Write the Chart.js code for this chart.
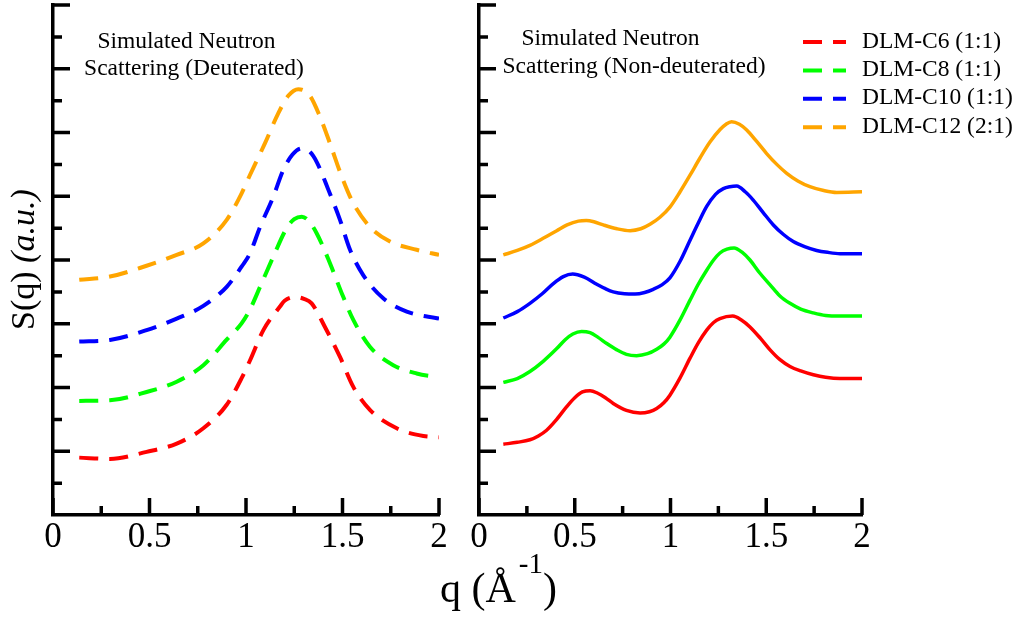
<!DOCTYPE html>
<html>
<head>
<meta charset="utf-8">
<script src="https://cdn.jsdelivr.net/npm/chart.js@4.4.1/dist/chart.umd.min.js"></script>
<style>
  html, body { margin: 0; padding: 0; background: #fff; }
  #wrap { position: relative; width: 1021px; height: 617px; }
  #wrap canvas { position: absolute; left: 0; top: 0; }
</style>
</head>
<body>
<div id="wrap">
  <canvas id="deut" width="1021" height="617"></canvas>
  <canvas id="nondeut" width="1021" height="617"></canvas>
</div>
<script>
const serif = "'Liberation Serif', 'Times New Roman', serif";

const labels = ['DLM-C6 (1:1)', 'DLM-C8 (1:1)', 'DLM-C10 (1:1)', 'DLM-C12 (2:1)'];
const colors = ['#ff0000', '#00ff00', '#0000ff', '#ffa500'];

// axis ticks
const qMajor = [0, 0.5, 1, 1.5, 2];
const qMinor = [0.25, 0.75, 1.25, 1.75];
const sMajor = [1, 2, 3, 4, 5, 6, 7, 8];
const sMinor = [0.5, 1.5, 2.5, 3.5, 4.5, 5.5, 6.5, 7.5];

// deuterated (dashed)
const qD6 = [0.136, 0.295, 0.485, 0.641, 0.779, 0.9, 0.978, 1.02, 1.09, 1.176, 1.20, 1.254, 1.30, 1.34, 1.409, 1.487, 1.556, 1.642, 1.781, 1.919, 2.0];
const sD6 = [0.90, 0.88, 0.99, 1.12, 1.36, 1.73, 2.15, 2.42, 2.90, 3.27, 3.36, 3.42, 3.39, 3.32, 2.95, 2.48, 2.01, 1.65, 1.36, 1.24, 1.22];
const qD8 = [0.136, 0.295, 0.485, 0.641, 0.779, 0.9, 0.978, 1.02, 1.073, 1.141, 1.211, 1.25, 1.289, 1.32, 1.366, 1.435, 1.496, 1.556, 1.642, 1.763, 1.884, 2.0];
const sD8 = [1.79, 1.80, 1.93, 2.09, 2.35, 2.75, 3.01, 3.22, 3.58, 4.05, 4.50, 4.64, 4.68, 4.63, 4.42, 3.95, 3.48, 3.06, 2.64, 2.35, 2.22, 2.16];
const qD10 = [0.136, 0.295, 0.485, 0.641, 0.779, 0.9, 0.978, 1.02, 1.073, 1.141, 1.193, 1.24, 1.289, 1.33, 1.366, 1.427, 1.487, 1.539, 1.608, 1.711, 1.833, 2.0];
const sD10 = [2.72, 2.745, 2.90, 3.08, 3.28, 3.58, 3.90, 4.10, 4.52, 4.99, 5.41, 5.65, 5.75, 5.70, 5.54, 5.10, 4.63, 4.16, 3.76, 3.40, 3.19, 3.08];
const qD12 = [0.136, 0.295, 0.485, 0.641, 0.779, 0.9, 0.978, 1.02, 1.098, 1.167, 1.22, 1.271, 1.33, 1.383, 1.435, 1.496, 1.556, 1.642, 1.746, 1.884, 2.0];
const sD12 = [3.69, 3.74, 3.91, 4.08, 4.26, 4.63, 5.05, 5.33, 5.83, 6.30, 6.58, 6.68, 6.58, 6.25, 5.83, 5.31, 4.89, 4.52, 4.29, 4.16, 4.08];

// non-deuterated (solid)
const qN6 = [0.127, 0.20, 0.266, 0.31, 0.353, 0.40, 0.458, 0.50, 0.54, 0.58, 0.62, 0.66, 0.701, 0.77, 0.841, 0.89, 0.928, 0.965, 0.997, 1.05, 1.102, 1.145, 1.189, 1.225, 1.258, 1.325, 1.37, 1.415, 1.47, 1.52, 1.57, 1.624, 1.68, 1.746, 1.81, 1.885, 2.0];
const sN6 = [1.11, 1.14, 1.18, 1.24, 1.33, 1.48, 1.70, 1.84, 1.93, 1.95, 1.91, 1.84, 1.75, 1.64, 1.60, 1.62, 1.67, 1.76, 1.88, 2.15, 2.46, 2.70, 2.90, 3.02, 3.08, 3.12, 3.06, 2.95, 2.77, 2.59, 2.44, 2.33, 2.26, 2.20, 2.16, 2.14, 2.14];
const qN8 = [0.127, 0.20, 0.266, 0.335, 0.406, 0.45, 0.49, 0.536, 0.58, 0.62, 0.667, 0.72, 0.77, 0.823, 0.88, 0.928, 0.965, 0.997, 1.05, 1.102, 1.145, 1.189, 1.225, 1.258, 1.295, 1.332, 1.375, 1.415, 1.465, 1.52, 1.57, 1.624, 1.68, 1.746, 1.81, 1.885, 2.0];
const sN8 = [2.08, 2.14, 2.25, 2.41, 2.61, 2.75, 2.84, 2.88, 2.86, 2.79, 2.69, 2.59, 2.52, 2.50, 2.53, 2.60, 2.68, 2.79, 3.06, 3.37, 3.62, 3.84, 4.00, 4.11, 4.17, 4.19, 4.12, 4.00, 3.80, 3.61, 3.44, 3.32, 3.23, 3.17, 3.13, 3.12, 3.12];
const qN10 = [0.127, 0.20, 0.266, 0.33, 0.388, 0.44, 0.489, 0.55, 0.615, 0.66, 0.701, 0.76, 0.815, 0.865, 0.910, 0.955, 0.997, 1.05, 1.102, 1.145, 1.189, 1.235, 1.276, 1.31, 1.346, 1.39, 1.432, 1.485, 1.537, 1.59, 1.641, 1.70, 1.763, 1.82, 1.885, 2.0];
const sN10 = [3.09, 3.19, 3.32, 3.47, 3.63, 3.74, 3.78, 3.73, 3.62, 3.55, 3.50, 3.47, 3.465, 3.49, 3.54, 3.61, 3.72, 3.98, 4.31, 4.58, 4.84, 5.03, 5.12, 5.15, 5.16, 5.07, 4.94, 4.74, 4.55, 4.40, 4.29, 4.21, 4.15, 4.12, 4.10, 4.10];
const qN12 = [0.127, 0.20, 0.266, 0.335, 0.406, 0.46, 0.519, 0.56, 0.60, 0.649, 0.72, 0.789, 0.845, 0.893, 0.945, 0.997, 1.05, 1.102, 1.154, 1.206, 1.26, 1.29, 1.319, 1.36, 1.398, 1.45, 1.502, 1.555, 1.607, 1.665, 1.728, 1.80, 1.868, 2.0];
const sN12 = [4.08, 4.15, 4.23, 4.34, 4.46, 4.55, 4.61, 4.62, 4.60, 4.55, 4.49, 4.46, 4.49, 4.56, 4.67, 4.83, 5.07, 5.33, 5.60, 5.85, 6.05, 6.13, 6.17, 6.13, 6.04, 5.86, 5.67, 5.50, 5.36, 5.24, 5.15, 5.09, 5.06, 5.07];

function series(i, q, s, dashed) {
    return {
        label: labels[i],
        data: q.map((x, k) => ({ x: x, y: s[k] })),
        borderColor: colors[i],
        borderWidth: dashed ? 4 : 3.5,
        borderDash: dashed ? [19, 11] : [],
        borderCapStyle: 'butt',
        cubicInterpolationMode: 'monotone',
        fill: false
    };
}

// short ticks pointing into the plot, major and minor
const innerTicks = {
    id: 'innerTicks',
    afterDraw(chart) {
        const { ctx, chartArea: a, scales: { x, y } } = chart;
        ctx.save();
        ctx.strokeStyle = '#000';
        ctx.lineWidth = 3.5;
        ctx.beginPath();
        qMajor.concat(qMinor).forEach(v => {
            const px = x.getPixelForValue(v);
            const len = qMajor.includes(v) ? 17 : 9;
            ctx.moveTo(px, a.bottom);
            ctx.lineTo(px, a.bottom - len);
        });
        sMajor.concat(sMinor).forEach(v => {
            const py = y.getPixelForValue(v);
            const len = sMajor.includes(v) ? 17 : 9;
            ctx.moveTo(a.left, py);
            ctx.lineTo(a.left + len, py);
        });
        ctx.stroke();
        ctx.restore();
    }
};

// two-line caption inside each panel
const panelNote = {
    id: 'panelNote',
    afterDraw(chart, args, opts) {
        const { ctx, chartArea: a } = chart;
        ctx.save();
        ctx.font = '23.5px ' + serif;
        ctx.fillStyle = '#000';
        ctx.textAlign = 'center';
        ctx.textBaseline = 'alphabetic';
        opts.lines.forEach(l => ctx.fillText(l.text, a.left + l.dx, l.y));
        ctx.restore();
    }
};

// legend with dashed samples, top right
const sideLegend = {
    id: 'sideLegend',
    afterDraw(chart) {
        const { ctx } = chart;
        ctx.save();
        ctx.font = '23.5px ' + serif;
        ctx.textBaseline = 'alphabetic';
        chart.data.datasets.forEach((ds, i) => {
            const base = 47.5 + i * 28.4;
            ctx.strokeStyle = ds.borderColor;
            ctx.lineWidth = 4;
            ctx.setLineDash([19, 11]);
            ctx.beginPath();
            ctx.moveTo(803, base - 5.5);
            ctx.lineTo(846, base - 5.5);
            ctx.stroke();
            ctx.setLineDash([]);
            ctx.fillStyle = '#000';
            ctx.fillText(ds.label, 862, base);
        });
        ctx.restore();
    }
};

// shared axis titles
const axisTitles = {
    id: 'axisTitles',
    afterDraw(chart) {
        const { ctx } = chart;
        ctx.save();
        ctx.fillStyle = '#000';
        ctx.textAlign = 'left';
        ctx.textBaseline = 'alphabetic';

        ctx.save();
        ctx.translate(34, 330);
        ctx.rotate(-Math.PI / 2);
        ctx.font = '34px ' + serif;
        ctx.fillText('S(q) ', 0, 0);
        const w = ctx.measureText('S(q) ').width;
        ctx.font = 'italic 34px ' + serif;
        ctx.fillText('(a.u.)', w, 0);
        ctx.restore();

        let x0 = 440;
        ctx.font = '42px ' + serif;
        ctx.fillText('q (Å', x0, 602);
        x0 += ctx.measureText('q (Å').width + 3;
        ctx.font = '29px ' + serif;
        ctx.fillText('-1', x0, 573);
        x0 += ctx.measureText('-1').width;
        ctx.font = '42px ' + serif;
        ctx.fillText(')', x0, 602);
        ctx.restore();
    }
};

function panelOptions(left, right, lines) {
    return {
        responsive: false,
        animation: false,
        layout: { padding: { top: 5, right: 1021 - right, left: 0, bottom: 0 } },
        elements: { point: { radius: 0 } },
        plugins: {
            legend: { display: false },
            tooltip: { enabled: false },
            panelNote: { lines: lines }
        },
        scales: {
            x: {
                type: 'linear',
                min: 0,
                max: 2,
                grid: { display: false, drawTicks: false },
                border: { display: true, color: '#000', width: 3.5 },
                afterBuildTicks: s => { s.ticks = qMajor.map(v => ({ value: v })); },
                afterFit: s => { s.height = 617 - 515; },
                ticks: {
                    color: '#000',
                    padding: 2,
                    maxRotation: 0,
                    autoSkip: false,
                    font: { family: serif, size: 35 },
                    callback: v => String(v)
                }
            },
            y: {
                type: 'linear',
                min: 0,
                max: 8,
                grid: { display: false, drawTicks: false },
                border: { display: true, color: '#000', width: 3.5 },
                ticks: { display: false },
                afterFit: s => { s.width = left; }
            }
        }
    };
}

new Chart(document.getElementById('deut'), {
    type: 'line',
    data: {
        datasets: [
            series(0, qD6, sD6, true),
            series(1, qD8, sD8, true),
            series(2, qD10, sD10, true),
            series(3, qD12, sD12, true)
        ]
    },
    options: panelOptions(53, 439, [
        { text: 'Simulated Neutron', dx: 133.5, y: 48 },
        { text: 'Scattering (Deuterated)', dx: 141, y: 75 }
    ]),
    plugins: [innerTicks, panelNote]
});

new Chart(document.getElementById('nondeut'), {
    type: 'line',
    data: {
        datasets: [
            series(0, qN6, sN6, false),
            series(1, qN8, sN8, false),
            series(2, qN10, sN10, false),
            series(3, qN12, sN12, false)
        ]
    },
    options: panelOptions(479, 862, [
        { text: 'Simulated Neutron', dx: 131.5, y: 45 },
        { text: 'Scattering (Non-deuterated)', dx: 155, y: 72.5 }
    ]),
    plugins: [innerTicks, panelNote, sideLegend, axisTitles]
});
</script>
</body>
</html>
